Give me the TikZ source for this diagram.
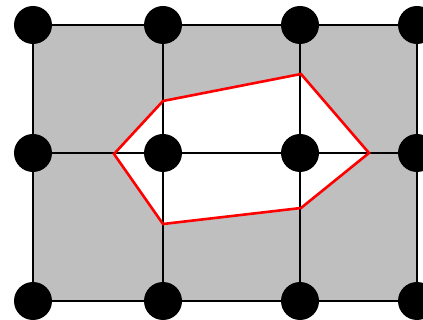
\documentclass[tikz,border=0pt]{standalone}
\begin{document}
\begin{tikzpicture}[x=1pt,y=-1pt,
  gridline/.style={black,line width=2.8pt},
  hull/.style={red,line width=2.6pt,line join=miter},
  dot/.style={circle,fill=black,inner sep=0pt,minimum size=38pt}]
\useasboundingbox (0,0) rectangle (423,320);
\clip (0,0) rectangle (423,320);
% grid points
\foreach \c/\x in {1/33,2/163,3/300,4/417}{
  \foreach \r/\y in {1/25,2/153,3/301}{
    \coordinate (p\r\c) at (\x,\y);
  }
}
% polygon vertices
\coordinate (h1) at (114,154);
\coordinate (h2) at (163,101);
\coordinate (h3) at (301,74);
\coordinate (h4) at (369,153);
\coordinate (h5) at (301,208);
\coordinate (h6) at (163,224);
\fill[gray!50] (p11) rectangle (p34);
\fill[white] (h1) -- (h2) -- (h3) -- (h4) -- (h5) -- (h6) -- cycle;
\foreach \r in {1,2,3}{ \draw[gridline] (p\r1) -- (p\r4); }
\foreach \c in {1,2,3,4}{ \draw[gridline] (p1\c) -- (p3\c); }
\draw[hull] (h1) -- (h2) -- (h3) -- (h4) -- (h5) -- (h6) -- cycle;
\foreach \c in {1,2,3,4}{
  \foreach \r in {1,2,3}{
    \node[dot] (d\r\c) at (p\r\c) {};
  }
}
\end{tikzpicture}
\end{document}
